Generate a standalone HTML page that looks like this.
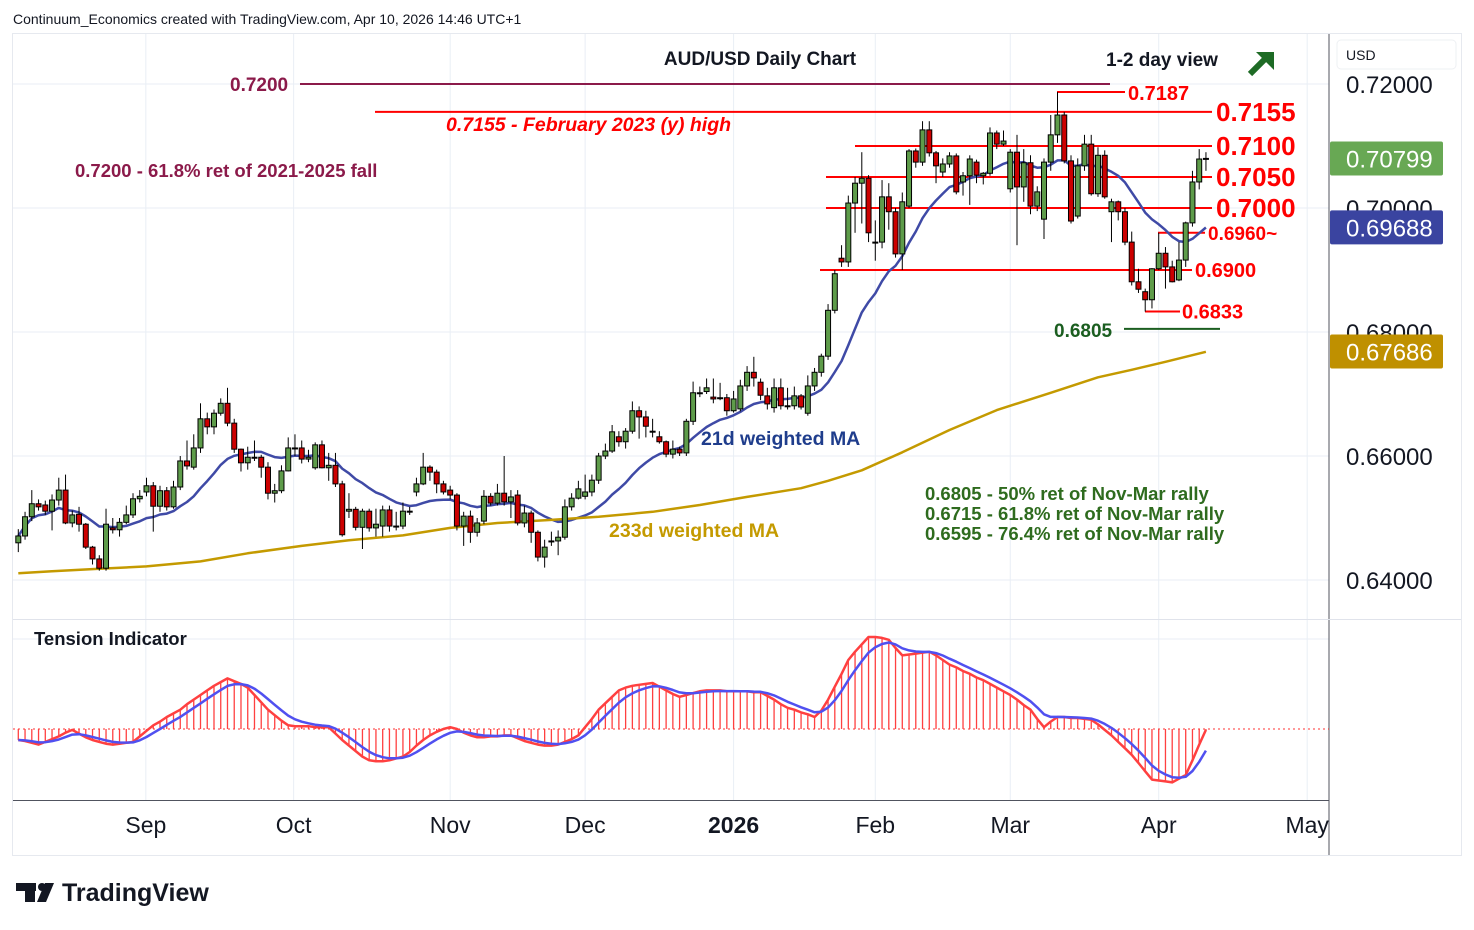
<!DOCTYPE html>
<html><head><meta charset="utf-8"><style>
html,body{margin:0;padding:0;background:#fff;}
body{width:1474px;height:930px;overflow:hidden;font-family:"Liberation Sans",sans-serif;}
svg{position:absolute;left:0;top:0;}
</style></head><body>
<svg id="chart" width="1474" height="930" viewBox="0 0 1474 930" xmlns="http://www.w3.org/2000/svg">
<text x="13" y="24" font-size="14" fill="#131722">Continuum_Economics created with TradingView.com, Apr 10, 2026 14:46 UTC+1</text>
<rect x="12.5" y="33.5" width="1449" height="822" fill="none" stroke="#e6e9ef"/>
<g id="grid"></g>
<line x1="1329" y1="34" x2="1329" y2="855" stroke="#50535e"/>
<line x1="13" y1="619.5" x2="1461" y2="619.5" stroke="#e0e3eb" stroke-width="1"/>
<line x1="13" y1="800.5" x2="1329" y2="800.5" stroke="#50535e"/>
<g id="levels"></g>
<g id="mas"></g>
<g id="candles"></g>
<g id="tension"></g>
<g id="axes"></g>
<g id="notes" font-weight="bold">
<text x="760" y="65" text-anchor="middle" font-size="19" fill="#131722">AUD/USD Daily Chart</text>
<text x="1106" y="66" font-size="19" fill="#131722">1-2 day view</text>
<g stroke="#1e6b25" stroke-width="6" fill="#1e6b25"><line x1="1250" y1="74" x2="1266" y2="58"/><polygon points="1256,52 1274,52 1274,70" stroke="none"/></g>
<text x="75" y="177" font-size="18.5" fill="#8b1a4a">0.7200 - 61.8% ret of 2021-2025 fall</text>
<text x="446" y="131" font-size="19.5" font-style="italic" fill="#ff0000">0.7155 - February 2023 (y) high</text>
<text x="701" y="445" font-size="19.5" fill="#1f3d8c">21d weighted MA</text>
<text x="609" y="537" font-size="19.5" fill="#c49a00">233d weighted MA</text>
<text x="925" y="500" font-size="18.5" fill="#2e6b1e">0.6805 - 50% ret of Nov-Mar rally</text>
<text x="925" y="520" font-size="18.5" fill="#2e6b1e">0.6715 - 61.8% ret of Nov-Mar rally</text>
<text x="925" y="540" font-size="18.5" fill="#2e6b1e">0.6595 - 76.4% ret of Nov-Mar rally</text>
<text x="34" y="645" font-size="18.5" fill="#131722" font-weight="bold">Tension Indicator</text>
</g>
<g>
<rect x="1337" y="40" width="119" height="29" rx="4" fill="#fff" stroke="#eef0f3"/>
<text x="1346" y="60" font-size="14" fill="#131722">USD</text>
</g>
<g>
<rect x="16" y="883" width="20" height="8" fill="#131722"/><rect x="25" y="883" width="10" height="19" fill="#131722"/><circle cx="42" cy="887" r="4" fill="#131722"/><polygon points="45,883 54,883 46,902 37,902" fill="#131722"/>
<text x="62" y="901" font-size="25" font-weight="bold" fill="#131722">TradingView</text>
</g>
</svg>
<script>
// ---- data (prices in pips, 0.6460 -> 6460) ----
const opens=[6460,6471,6502,6523,6521,6511,6529,6545,6492,6506,6490,6453,6434,6419,6484,6481,6493,6505,6531,6542,6552,6519,6544,6518,6550,6592,6582,6613,6660,6647,6669,6685,6653,6611,6589,6598,6598,6582,6540,6544,6576,6613,6613,6595,6581,6618,6581,6585,6555,6511,6514,6485,6511,6484,6487,6513,6487,6487,6511,6542,6555,6582,6574,6555,6545,6537,6487,6503,6477,6495,6535,6524,6540,6526,6537,6492,6508,6477,6437,6463,6463,6469,6518,6532,6535,6542,6561,6600,6608,6631,6623,6640,6673,6663,6640,6631,6623,6603,6611,6605,6656,6702,6704,6695,6694,6694,6673,6676,6713,6735,6719,6697,6678,6710,6681,6681,6697,6669,6713,6735,6761,6835,6919,6913,7008,7040,7048,6945,6945,7018,6994,6926,7003,7092,7074,7126,7089,7058,7071,7084,7042,7052,7074,7052,7056,7121,7103,7031,7090,7034,7073,7003,6982,7074,7118,7150,7076,6987,7068,7103,7023,7085,6994,7010,6994,6945,6881,6865,6852,6902,6927,6905,6884,6916,6976,7042,7080];
const closes=[6471,6502,6523,6518,6511,6529,6545,6492,6505,6490,6453,6434,6419,6490,6481,6493,6505,6531,6535,6552,6519,6544,6518,6550,6592,6584,6613,6660,6647,6669,6685,6653,6611,6589,6598,6598,6582,6540,6544,6576,6613,6613,6595,6598,6618,6581,6585,6555,6473,6514,6485,6511,6484,6490,6513,6487,6487,6511,6511,6555,6582,6574,6555,6542,6537,6487,6503,6477,6492,6535,6524,6540,6526,6534,6492,6508,6477,6437,6453,6463,6469,6518,6532,6547,6542,6561,6600,6608,6639,6623,6640,6673,6663,6648,6640,6623,6603,6611,6605,6656,6702,6702,6710,6692,6694,6673,6692,6713,6735,6726,6698,6684,6710,6681,6681,6697,6679,6713,6735,6761,6835,6894,6913,7008,7040,7048,6960,6945,7018,6994,6926,7010,7092,7074,7126,7089,7068,7071,7084,7026,7052,7079,7053,7056,7121,7103,7108,7090,7034,7073,7003,7026,7074,7118,7150,7076,6979,7068,7103,7023,7085,7018,7010,6994,6945,6881,6869,6852,6902,6927,6905,6881,6916,6976,7042,7079,7080];
const highs=[6482,6510,6545,6530,6528,6538,6565,6570,6512,6518,6492,6455,6440,6515,6500,6500,6520,6540,6545,6565,6558,6552,6550,6560,6600,6625,6635,6685,6670,6675,6693,6710,6660,6612,6615,6625,6602,6590,6555,6585,6630,6635,6625,6610,6622,6625,6605,6605,6560,6540,6518,6515,6515,6515,6520,6520,6510,6525,6518,6565,6605,6585,6578,6560,6552,6540,6510,6512,6500,6545,6540,6555,6600,6545,6545,6520,6512,6480,6465,6478,6480,6530,6540,6560,6570,6570,6605,6620,6650,6640,6645,6688,6680,6673,6660,6640,6625,6625,6615,6660,6720,6712,6725,6725,6718,6700,6705,6723,6745,6760,6725,6710,6725,6725,6710,6712,6700,6730,6742,6765,6845,6900,6940,7020,7050,7090,7053,6980,7045,7040,7000,7025,7095,7096,7140,7140,7092,7080,7090,7088,7058,7085,7078,7058,7130,7125,7125,7095,7118,7095,7085,7035,7080,7150,7187,7155,7085,7080,7118,7118,7098,7093,7015,7012,7000,6962,6902,6870,6903,6960,6937,6915,6945,6978,7060,7095,7090];
const lows=[6445,6465,6495,6512,6505,6480,6520,6490,6485,6478,6450,6425,6415,6415,6475,6470,6490,6500,6525,6535,6478,6510,6512,6515,6545,6578,6578,6605,6635,6635,6665,6648,6605,6575,6578,6592,6565,6530,6525,6540,6575,6600,6588,6590,6578,6580,6560,6550,6470,6500,6480,6450,6478,6470,6470,6478,6480,6482,6505,6535,6553,6560,6540,6538,6530,6480,6455,6460,6470,6490,6520,6520,6520,6500,6488,6485,6460,6430,6420,6455,6440,6465,6512,6530,6530,6535,6555,6595,6605,6615,6612,6636,6628,6630,6630,6620,6598,6596,6600,6600,6650,6695,6700,6685,6690,6665,6670,6672,6705,6712,6690,6675,6670,6675,6675,6675,6675,6665,6705,6728,6755,6830,6905,6905,6960,6975,6945,6915,6935,6965,6920,6900,7000,7065,7068,7083,7040,7050,7065,7022,7020,7005,7040,7038,7052,7095,7100,7025,6940,7010,6990,6995,6950,7060,7105,7072,6975,6983,7060,7020,7018,7015,6945,6980,6940,6875,6863,6833,6838,6900,6870,6880,6882,6905,6970,7030,7060];
// 233d weighted MA, sampled bars: bar index and value
const ma233Idx=[0,5,12,19,27,34,42,49,57,64,71,79,86,94,101,108,116,120,125,131,138,145,153,160,165,170,176];
const ma233Val=[6411,6414,6418,6422,6430,6443,6455,6464,6472,6484,6492,6497,6502,6510,6521,6534,6548,6560,6577,6606,6642,6674,6702,6727,6739,6752,6768];
// tension indicator values (one per bar)
const tensionVals=[-12,-13,-15,-17,-14,-11,-8,-4,-1,-5,-9,-12,-14,-16,-17,-16,-15,-14,-8,-2,4,8,13,17,21,27,32,37,42,47,51,55,52,49,45,37,29,21,15,9,4,3,3,3,2,2,2,-5,-12,-18,-24,-30,-34,-35,-35,-34,-32,-30,-25,-18,-12,-7,-3,0,2,0,-4,-7,-9,-9,-8,-8,-7,-7,-10,-13,-15,-17,-18,-18,-17,-14,-11,-7,2,11,21,28,35,42,45,47,48,49,50,46,42,38,35,37,39,41,42,42,42,41,41,41,41,40,40,36,32,27,23,21,18,16,13,20,32,46,60,75,84,92,100,100,99,97,88,80,81,82,83,84,80,75,70,67,63,60,56,53,49,45,41,37,32,26,21,11,2,8,13,13,12,12,11,10,5,-1,-7,-14,-21,-28,-37,-46,-55,-56,-57,-58,-54,-50,-34,-17,-1];
const priceTicks=[7200,7000,6800,6600,6400];
const priceTickLabels=["0.72000","0.70000","0.68000","0.66000","0.64000"];
const monthLabels=["Sep","Oct","Nov","Dec","2026","Feb","Mar","Apr","May"];
const monthBars=[18.9,40.8,64,84,106,127,147,169,191];
const levelVals=[7200,7187,7155,7100,7050,7000,6960,6900,6833,6805];
const levelText=["","0.7187","0.7155","0.7100","0.7050","0.7000","0.6960~","0.6900","0.6833","0.6805"];

// ---- scales ----
const NS='http://www.w3.org/2000/svg';
const X0=18.3, DX=6.748;
function xOf(i){return X0+i*DX;}
function yOf(p){return 84+(7200-p)*0.62;}
function yT(v){return 729-v*0.92;}
function mk(tag,attrs,parent){const e=document.createElementNS(NS,tag);for(const k in attrs)e.setAttribute(k,attrs[k]);parent.appendChild(e);return e;}

// grid
const grid=document.getElementById('grid');
priceTicks.forEach(function(p){
  const l=mk('line',{x1:13,x2:1329,y1:yOf(p),y2:yOf(p),stroke:'#e9eef5'},grid);
  
  
});
const gl2=mk('line',{x1:13,x2:1329,y1:639,y2:639,stroke:'#e9eef5'},grid);


monthBars.forEach(function(b){
  const l=mk('line',{x1:xOf(b),x2:xOf(b),y1:34,y2:800,stroke:'#e9eef5'},grid);
  
  
});

// axes labels
const axes=document.getElementById('axes');
priceTicks.forEach(function(p,k){
  const t=mk('text',{x:1346,y:yOf(p)+9,'font-size':24,fill:'#131722'},axes);
  t.textContent=priceTickLabels[k];
  
  
});
monthLabels.forEach(function(m,k){
  const t=mk('text',{x:xOf(monthBars[k]),y:833,'font-size':23,fill:'#131722','text-anchor':'middle','font-weight':m==='2026'?'bold':'normal'},axes);
  t.textContent=m;
  
  
});

// levels
const lv=document.getElementById('levels');
const lvSpec=[[300,1110,'#8b1a4a'],[1057,1125,'#ff0000'],[375,1212,'#ff0000'],[855,1212,'#ff0000'],[826,1212,'#ff0000'],[826,1212,'#ff0000'],[1158,1205,'#ff0000'],[820,1192,'#ff0000'],[1145,1180,'#ff0000'],[1124,1220,'#1b5e20']];
levelVals.forEach(function(p,k){
  const s=lvSpec[k];
  const l=mk('line',{x1:s[0],x2:s[1],y1:yOf(p),y2:yOf(p),stroke:s[2],'stroke-width':2},lv);
  
  
});
function lvText(txt,x,y,size,color){
  const t=mk('text',{x:x,y:y,'font-size':size,fill:color,'font-weight':'bold'},lv);
  t.textContent=txt;
  
  
}
lvText('0.7200',230,yOf(7200)+7,19,'#8b1a4a');
lvText(levelText[1],1128,yOf(7187)+8,20,'#ff0000');
lvText(levelText[2],1216,yOf(7155)+9,26,'#ff0000');
lvText(levelText[3],1216,yOf(7100)+9,26,'#ff0000');
lvText(levelText[4],1216,yOf(7050)+9,26,'#ff0000');
lvText(levelText[5],1216,yOf(7000)+9,26,'#ff0000');
lvText(levelText[6],1208,yOf(6960)+7,19,'#ff0000');
lvText(levelText[7],1195,yOf(6900)+7,20,'#ff0000');
lvText(levelText[8],1182,yOf(6833)+7,20,'#ff0000');
lvText(levelText[9],1054,yOf(6805)+8,19,'#1b5e20');

// moving averages
const mas=document.getElementById('mas');
let wmaPts=[];
for(let i=0;i<closes.length;i++){
  let s=0,w=0;
  for(let j=Math.max(0,i-20);j<=i;j++){const wt=j-i+21;s+=closes[j]*wt;w+=wt;}
  wmaPts.push(xOf(i).toFixed(1)+','+yOf(s/w).toFixed(1));
}
const wma=mk('polyline',{points:wmaPts.join(' '),fill:'none',stroke:'#3f4aa6','stroke-width':2.5,'stroke-linejoin':'round'},mas);


const m233=mk('polyline',{points:ma233Idx.map(function(b,k){return xOf(b).toFixed(1)+','+yOf(ma233Val[k]).toFixed(1);}).join(' '),fill:'none',stroke:'#c49a00','stroke-width':2.5,'stroke-linejoin':'round'},mas);



// candles
const cg=document.getElementById('candles');
for(let i=0;i<closes.length;i++){
  const x=xOf(i),o=opens[i],c=closes[i];
  const up=c>=o;
  const w=mk('line',{x1:x,x2:x,y1:yOf(highs[i]),y2:yOf(lows[i]),stroke:'#000','stroke-width':1},cg);
  
  
  const top=yOf(Math.max(o,c)),bot=yOf(Math.min(o,c));
  const b=mk('rect',{x:x-2.5,y:top,width:5,height:Math.max(1,bot-top),fill:up?'#5e9c4a':'#cc0000',stroke:'#000','stroke-width':1},cg);
  
  
}

// price labels on axis
function axisTag(p,txt,bg,name){
  const g=mk('g',{},axes);
  
  
  const y=yOf(p);
  mk('rect',{x:1330,y:y-17,width:113,height:34,fill:bg,rx:2},g);
  const t=mk('text',{x:1346,y:y+9,'font-size':24,fill:'#fff'},g);
  t.textContent=txt;
}
axisTag(closes[closes.length-1]-0.1,'0.70799','#68a854','last-price-tag');
axisTag(6968.8,'0.69688','#3a44a0','wma21-tag');
axisTag(ma233Val[ma233Val.length-1]+0.6,'0.67686','#bf9000','wma233-tag');

// tension
const tg=document.getElementById('tension');
const zl=mk('line',{x1:13,x2:1329,y1:yT(0),y2:yT(0),stroke:'#ff3030','stroke-dasharray':'2,3'},tg);


let tp=[],sp=[],ema=tensionVals[0];
for(let i=0;i<tensionVals.length;i++){
  const x=xOf(i);
  const h=mk('line',{x1:x,x2:x,y1:yT(0),y2:yT(tensionVals[i]),stroke:'#ff4040','stroke-width':1.3},tg);
  
  
  tp.push(x.toFixed(1)+','+yT(tensionVals[i]).toFixed(1));
  ema=ema+0.35*(tensionVals[i]-ema);
  sp.push(x.toFixed(1)+','+yT(ema).toFixed(1));
}
const tl=mk('polyline',{points:tp.join(' '),fill:'none',stroke:'#ff4040','stroke-width':2.5,'stroke-linejoin':'round'},tg);


const sl=mk('polyline',{points:sp.join(' '),fill:'none',stroke:'#5050f0','stroke-width':2.5,'stroke-linejoin':'round'},tg);


</script>
</body></html>
